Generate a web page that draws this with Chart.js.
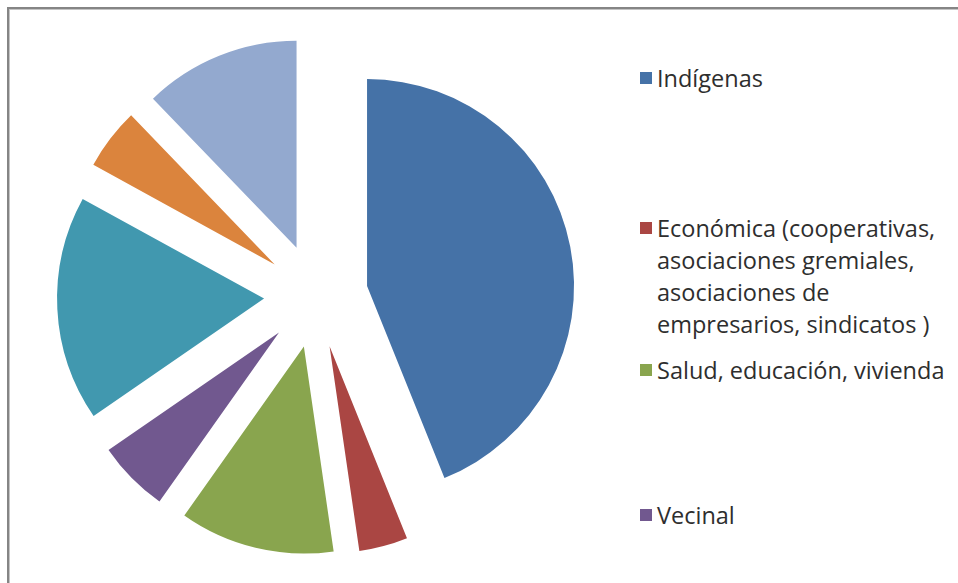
<!DOCTYPE html>
<html lang="es">
<head>
    <meta charset="UTF-8">
    <title>Organizaciones</title>
    <script src="https://cdn.jsdelivr.net/npm/chart.js@4/dist/chart.umd.min.js"></script>
    <style>
        html, body {
            margin: 0;
            padding: 0;
            width: 958px;
            height: 583px;
            overflow: hidden;
            background: #fff;
        }
        .frame {
            position: absolute;
            left: 7px;
            top: 7px;
            width: 1100px;
            height: 1100px;
            border-top: 2px solid #858585;
            border-left: 2px solid #858585;
            box-shadow: inset 1px 1px 0 #c4c4c4;
        }
        .chart-box {
            position: absolute;
            left: 0;
            top: 0;
            width: 632px;
            height: 592px;
        }
        .legend {
            position: absolute;
            left: 640px;
            top: 0;
            font-family: "Open Sans", sans-serif;
            font-size: 23.5px;
            line-height: 32px;
            color: #2e2e2e;
        }
        .legend-item {
            position: absolute;
            left: 0;
            white-space: nowrap;
        }
        .legend-item .swatch {
            position: absolute;
            left: 0;
            top: 10px;
            width: 12px;
            height: 12px;
        }
        .legend-item .text {
            margin-left: 17px;
        }
    </style>
</head>
<body>
    <div class="frame"></div>
    <div class="chart-box">
        <canvas id="pieChart"></canvas>
    </div>
    <div class="legend" id="legend"></div>

    <script>
        // Data (share of organisations, %)
        const labels = [
            'Indígenas',
            ['Económica (cooperativas,', 'asociaciones gremiales,', 'asociaciones de', 'empresarios, sindicatos )'],
            'Salud, educación, vivienda',
            'Vecinal',
            'Otra (5)',
            'Otra (6)',
            'Otra (7)'
        ];
        const values = [43.9, 3.8, 12.1, 5.6, 17.6, 4.8, 12.2];
        const colors = ['#4572A7', '#AA4643', '#89A54E', '#71588F', '#4198AF', '#DB843D', '#93A9CF'];

        // Excel only shows the first four legend entries
        const legendShown = 4;
        const legendTops = [62, 212, 354, 499];

        // Pull every slice out from the centre along its bisector
        const explodePlugin = {
            id: 'explode',
            beforeDatasetDraw(chart, args, opts) {
                const ctx = chart.ctx;
                args.meta.data.forEach(arc => {
                    const mid = (arc.startAngle + arc.endAngle) / 2;
                    ctx.save();
                    ctx.translate(Math.cos(mid) * opts.distance, Math.sin(mid) * opts.distance);
                    arc.draw(ctx);
                    ctx.restore();
                });
                return false;
            }
        };

        new Chart(document.getElementById('pieChart'), {
            type: 'pie',
            data: {
                labels: labels,
                datasets: [{
                    data: values,
                    backgroundColor: colors,
                    borderWidth: 0
                }]
            },
            options: {
                responsive: true,
                maintainAspectRatio: false,
                animation: false,
                radius: 207,
                layout: { padding: 0 },
                plugins: {
                    legend: { display: false },
                    tooltip: { enabled: false },
                    explode: { distance: 52 }
                }
            },
            plugins: [explodePlugin]
        });

        // HTML legend
        const legendEl = document.getElementById('legend');
        for (let i = 0; i < legendShown; i++) {
            const item = document.createElement('div');
            item.className = 'legend-item';
            item.style.top = legendTops[i] + 'px';
            const sw = document.createElement('span');
            sw.className = 'swatch';
            sw.style.background = colors[i];
            const txt = document.createElement('div');
            txt.className = 'text';
            const lines = Array.isArray(labels[i]) ? labels[i] : [labels[i]];
            lines.forEach((line, j) => {
                if (j > 0) txt.appendChild(document.createElement('br'));
                txt.appendChild(document.createTextNode(line));
            });
            item.appendChild(sw);
            item.appendChild(txt);
            legendEl.appendChild(item);
        }
    </script>
</body>
</html>
